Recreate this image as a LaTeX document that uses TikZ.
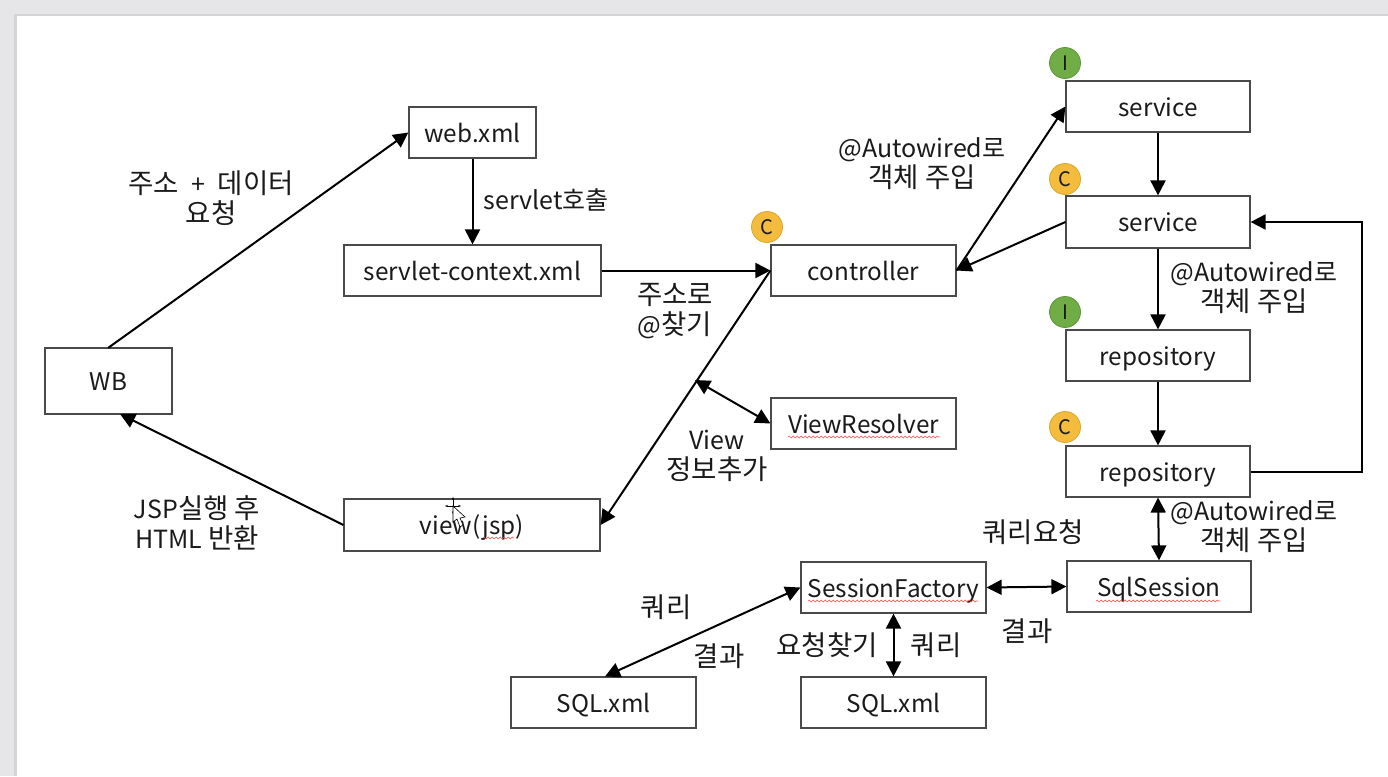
\documentclass[tikz,border=0pt]{standalone}
\usepackage{fontspec}
\setmainfont{Noto Sans CJK KR}[Scale=1]
\usetikzlibrary{arrows.meta,calc,decorations.pathmorphing}
\definecolor{pagebg}{HTML}{E6E6E8}
\definecolor{edgebg}{HTML}{D4D4D6}
\definecolor{boxline}{HTML}{4A4A4A}
\definecolor{badgeG}{HTML}{70AD47}
\definecolor{badgeGl}{HTML}{5F9639}
\definecolor{badgeY}{HTML}{F4BC3C}
\definecolor{badgeYl}{HTML}{DDA52E}
\definecolor{txt}{HTML}{1A1A1A}
\newcommand{\ko}[1]{{\fontsize{27.5}{30}\selectfont #1}}
\tikzset{
  x=1pt,y=-1pt,
  bx/.style={draw=boxline,line width=1.2pt,fill=white,inner sep=0pt,text height=22pt,text depth=3pt,font=\fontsize{24.3}{26}\selectfont,text=txt},
  lbl/.style={inner sep=0pt,align=center,font=\fontsize{25}{30}\selectfont,text=txt},
  badge/.style={circle,minimum size=31pt,inner sep=0pt,line width=.8pt,font=\fontsize{20}{22}\selectfont,text=txt},
  conn/.style={draw=black,line width=2pt,-{Triangle[length=15pt,width=15pt]}},
  conn2/.style={draw=black,line width=2pt,{Triangle[length=15pt,width=15pt]}-{Triangle[length=15pt,width=15pt]}},
  squig/.style={draw=red!70!white,line width=.6pt,decorate,decoration={snake,amplitude=.9pt,segment length=4pt}}
}
\newcommand{\boxat}[6]{\node[bx,minimum width=#4 pt-#2 pt,minimum height=#5 pt-#3 pt] (#1) at ({(#2+#4)/2},{(#3+#5)/2}) {#6};}
\begin{document}
\begin{tikzpicture}
\useasboundingbox (0,0) rectangle (1388,776);
\fill[pagebg] (0,0) rectangle (1388,776);
\fill[edgebg] (14,14) rectangle (1388,776);
\fill[white] (16.5,16) rectangle (1388,776);

\boxat{wb}{45}{348}{172}{414}{WB}
\boxat{web}{409}{107}{536}{158}{web.xml}
\boxat{ctx}{344}{245}{601}{296}{servlet-context.xml}
\boxat{ctrl}{771}{245}{956}{296}{controller}
\boxat{vr}{771}{398}{956}{449}{ViewResolver}
\boxat{view}{344}{499}{600}{551}{view(jsp)}
\boxat{svcI}{1066}{81}{1250}{132}{service}
\boxat{svcC}{1066}{196}{1250}{248}{service}
\boxat{repI}{1066}{330}{1250}{381}{repository}
\boxat{repC}{1066}{446}{1250}{497}{repository}
\boxat{sqls}{1067}{561}{1251}{612}{SqlSession}
\boxat{fact}{801}{562}{986}{613}{SessionFactory}
\boxat{sqlA}{511}{677}{696}{728}{SQL.xml}
\boxat{sqlB}{801}{677}{986}{728}{SQL.xml}

% spell-check squiggles
\draw[squig] (788,437) -- (940,437);
\draw[squig] (483,538) -- (514,538);
\draw[squig] (808,601) -- (978,601);
\draw[squig] (1096,601) -- (1220,601);

\node[badge,fill=badgeG,draw=badgeGl] (bI1) at (1065,63) {I};
\node[badge,fill=badgeY,draw=badgeYl] (bC1) at (1065,179) {C};
\node[badge,fill=badgeG,draw=badgeGl] (bI2) at (1065,312) {I};
\node[badge,fill=badgeY,draw=badgeYl] (bC2) at (1065,427) {C};
\node[badge,fill=badgeY,draw=badgeYl] (bC3) at (767,227) {C};

\coordinate (wbTop) at (108,348);
\coordinate (wbIn) at (120,414);
\coordinate (onLine) at (695,380);
\coordinate (elbowX) at (1362,300);

\draw[conn] (wbTop) -- (web.west);
\draw[conn] (web.south) -- (ctx.north);
\draw[conn] (ctx.east) -- (ctrl.west);
\draw[conn] (ctrl.west) -- (view.east);
\draw[conn2] (vr.west) -- (onLine);
\draw[conn] (view.west) -- (wbIn);
\draw[conn] (ctrl.east) -- (svcI.west);
\draw[conn] (svcC.west) -- (ctrl.east);
\draw[conn] (svcI.south) -- (svcC.north);
\draw[conn] (svcC.south) -- (repI.north);
\draw[conn] (repI.south) -- (repC.north);
\draw[conn] (repC.east) -- (repC.east -| elbowX) -- (svcC.east -| elbowX) -- (svcC.east);
\draw[conn2] (repC.south) -- (sqls.north);
\draw[conn2] (fact.east) -- (sqls.west);
\draw[conn2] (fact.west) -- (sqlA.north -| 605,0);
\draw[conn2] (fact.south) -- (sqlB.north);

\node[lbl] (t1) at (211,198) {\ko{주소} \;+\; \ko{데이터}\\\ko{요청}};
\node[lbl] (t2) at (546,200) {servlet호출};
\node[lbl] (t3) at (675,311) {\ko{주소로}\\@\ko{찾기}};
\node[lbl] (t4) at (922,164) {@Autowired로\\\ko{객체 주입}};
\node[lbl] (t5) at (1254,288) {@Autowired로\\\ko{객체 주입}};
\node[lbl] (t6) at (717,456) {View\\\ko{정보추가}};
\node[lbl] (t7) at (197,523) {JSP\ko{실행 후}\\HTML \ko{반환}};
\node[lbl] (t8) at (1254,527) {@Autowired로\\\ko{객체 주입}};
\node[lbl] (t9) at (1033,532) {\ko{쿼리요청}};
\node[lbl] (t10) at (1027,631) {\ko{결과}};
\node[lbl] (t11) at (666,607) {\ko{쿼리}};
\node[lbl] (t12) at (719,656) {\ko{결과}};
\node[lbl] (t13) at (827,645) {\ko{요청찾기}};
\node[lbl] (t14) at (936,645) {\ko{쿼리}};

% mouse cursor
\draw[black,line width=.9pt,{Stealth[length=3pt]}-{Stealth[length=3pt]}] (445,506) -- (461,506);
\draw[black,line width=.9pt,{Stealth[length=3pt]}-{Stealth[length=3pt]}] (453,497) -- (453,514);
\draw[black,fill=white,line width=.6pt] (453,506) -- (453,522) -- (457,519) -- (460,527) -- (463,525) -- (460,518) -- (465,517) -- cycle;
\end{tikzpicture}
\end{document}
